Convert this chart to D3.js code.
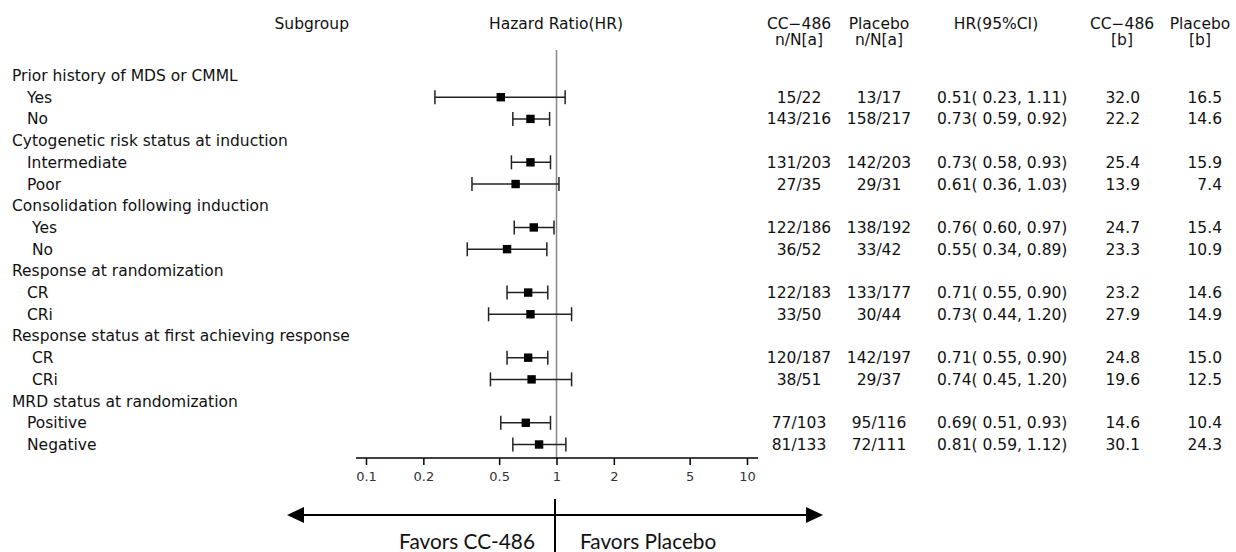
<!DOCTYPE html>
<html>
<head>
<meta charset="utf-8">
<script src="https://cdn.jsdelivr.net/npm/d3@7"></script>
<style>
  html, body { margin: 0; padding: 0; background: #fff; }
  svg { display: block; }
  .tbl { font-family: "DejaVu Sans", sans-serif; font-size: 15.5px; fill: #111; }
  .favors { font-family: Lato, "Open Sans", sans-serif; font-size: 20.8px; fill: #111; }
</style>
</head>
<body>
<div id="chart"></div>
<script>
//## Data

const groups = [
  "Prior history of MDS or CMML",
  "Cytogenetic risk status at induction",
  "Consolidation following induction",
  "Response at randomization",
  "Response status at first achieving response",
  "MRD status at randomization"
];

const subgroups = ["Yes", "No", "Intermediate", "Poor", "Yes", "No",
  "CR", "CRi", "CR", "CRi", "Positive", "Negative"];
const subgroupGroup = [0, 0, 1, 1, 2, 2, 3, 3, 4, 4, 5, 5];

const ccEvents = ["15/22", "143/216", "131/203", "27/35", "122/186", "36/52",
  "122/183", "33/50", "120/187", "38/51", "77/103", "81/133"];
const pbEvents = ["13/17", "158/217", "142/203", "29/31", "138/192", "33/42",
  "133/177", "30/44", "142/197", "29/37", "95/116", "72/111"];

const hr    = [0.51, 0.73, 0.73, 0.61, 0.76, 0.55, 0.71, 0.73, 0.71, 0.74, 0.69, 0.81];
const hrLow = [0.23, 0.59, 0.58, 0.36, 0.60, 0.34, 0.55, 0.44, 0.55, 0.45, 0.51, 0.59];
const hrUp  = [1.11, 0.92, 0.93, 1.03, 0.97, 0.89, 0.90, 1.20, 0.90, 1.20, 0.93, 1.12];

const ccMedian = ["32.0", "22.2", "25.4", "13.9", "24.7", "23.3", "23.2", "27.9", "24.8", "19.6", "14.6", "30.1"];
const pbMedian = ["16.5", "14.6", "15.9", "7.4", "15.4", "10.9", "14.6", "14.9", "15.0", "12.5", "10.4", "24.3"];

const tickValues = [0.1, 0.2, 0.5, 1, 2, 5, 10];

//## Layout

const width = 1236, height = 552;

// rows: group header followed by its subgroups
const rows = [];
groups.forEach((g, gi) => {
  rows.push({ type: "group", label: g });
  subgroupGroup.forEach((sg, i) => {
    if (sg === gi) rows.push({ type: "sub", label: subgroups[i], i, group: gi });
  });
});

const y = d3.scalePoint()
  .domain(d3.range(rows.length))
  .range([75.5, 444.5]);

const x = d3.scaleLog()
  .domain([0.1, 10])
  .range([366, 747]);

const axisY = 458;

const svg = d3.select("#chart").append("svg")
  .attr("width", width)
  .attr("height", height);

//## Headers

const headers = [
  { x: 349, anchor: "end", lines: ["Subgroup"] },
  { x: 556, anchor: "middle", lines: ["Hazard Ratio(HR)"] },
  { x: 799, anchor: "middle", lines: ["CC\u2212486", "n/N[a]"] },
  { x: 879, anchor: "middle", lines: ["Placebo", "n/N[a]"] },
  { x: 996, anchor: "middle", lines: ["HR(95%CI)"] },
  { x: 1122, anchor: "middle", lines: ["CC\u2212486", "[b]"] },
  { x: 1200, anchor: "middle", lines: ["Placebo", "[b]"] }
];

headers.forEach(h => {
  h.lines.forEach((t, k) => {
    svg.append("text")
      .attr("class", "tbl")
      .attr("x", h.x)
      .attr("y", 28.5 + k * 16.6)
      .attr("text-anchor", h.anchor)
      .text(t);
  });
});

//## Row labels

svg.append("g")
  .selectAll("text")
  .data(rows)
  .join("text")
  .attr("class", "tbl")
  .attr("x", d => d.type === "group" ? 12 : (d.group === 2 || d.group === 4 ? 32 : 27))
  .attr("y", (d, k) => y(k) + 5.5)
  .text(d => d.label);

//## Table columns

const subRows = rows.map((d, k) => ({ ...d, k })).filter(d => d.type === "sub");

const fmt = d3.format(".2f");
const columns = [
  { x: 799, anchor: "middle", value: d => ccEvents[d.i] },
  { x: 879, anchor: "middle", value: d => pbEvents[d.i] },
  { x: 937, anchor: "start", value: d => `${fmt(hr[d.i])}( ${fmt(hrLow[d.i])}, ${fmt(hrUp[d.i])})` },
  { x: 1140, anchor: "end", value: d => ccMedian[d.i] },
  { x: 1222, anchor: "end", value: d => pbMedian[d.i] }
];

columns.forEach(c => {
  svg.append("g")
    .selectAll("text")
    .data(subRows)
    .join("text")
    .attr("class", "tbl")
    .attr("x", c.x)
    .attr("y", d => y(d.k) + 5.5)
    .attr("text-anchor", c.anchor)
    .text(c.value);
});

//## Forest plot

// reference line at HR = 1
svg.append("line")
  .attr("x1", x(1)).attr("x2", x(1))
  .attr("y1", 50).attr("y2", axisY)
  .attr("stroke", "#888")
  .attr("stroke-width", 1.5);

const ci = svg.append("g")
  .selectAll("g")
  .data(subRows)
  .join("g")
  .attr("transform", d => `translate(0,${y(d.k)})`);

ci.append("line")
  .attr("x1", d => x(hrLow[d.i]))
  .attr("x2", d => x(hrUp[d.i]))
  .attr("stroke", "#222")
  .attr("stroke-width", 1.5);

ci.selectAll(".cap")
  .data(d => [hrLow[d.i], hrUp[d.i]])
  .join("line")
  .attr("class", "cap")
  .attr("x1", v => x(v)).attr("x2", v => x(v))
  .attr("y1", -7).attr("y2", 7)
  .attr("stroke", "#222")
  .attr("stroke-width", 1.5);

ci.append("rect")
  .attr("x", d => x(hr[d.i]) - 4.2)
  .attr("y", -4.2)
  .attr("width", 8.4)
  .attr("height", 8.4)
  .attr("fill", "#000");

//## Axis

const axis = svg.append("g")
  .attr("transform", `translate(0,${axisY})`)
  .call(d3.axisBottom(x)
    .tickValues(tickValues)
    .tickFormat(d3.format("~g"))
    .tickSize(7)
    .tickSizeOuter(0));

axis.select(".domain")
  .attr("d", `M356,0H758`)
  .attr("stroke", "#000")
  .attr("stroke-width", 1.5);
axis.selectAll(".tick line").attr("stroke", "#000").attr("stroke-width", 1.5);
axis.selectAll(".tick text")
  .attr("y", 14)
  .attr("dy", "0.71em")
  .style("font-family", "'DejaVu Sans', sans-serif")
  .style("font-size", "13px")
  .style("fill", "#333");

//## Favors arrows

const arrowY = 515;

svg.append("line")
  .attr("x1", 300).attr("x2", 810)
  .attr("y1", arrowY).attr("y2", arrowY)
  .attr("stroke", "#000")
  .attr("stroke-width", 2);

svg.append("path")
  .attr("d", `M287,${arrowY}L304,${arrowY - 8}L304,${arrowY + 8}Z`)
  .attr("fill", "#000");

svg.append("path")
  .attr("d", `M823,${arrowY}L806,${arrowY - 8}L806,${arrowY + 8}Z`)
  .attr("fill", "#000");

svg.append("line")
  .attr("x1", 555).attr("x2", 555)
  .attr("y1", 499).attr("y2", 552)
  .attr("stroke", "#000")
  .attr("stroke-width", 2);

svg.append("text")
  .attr("class", "favors")
  .attr("x", 535)
  .attr("y", 549)
  .attr("text-anchor", "end")
  .text("Favors CC-486");

svg.append("text")
  .attr("class", "favors")
  .attr("x", 580)
  .attr("y", 549)
  .text("Favors Placebo");
</script>
</body>
</html>
